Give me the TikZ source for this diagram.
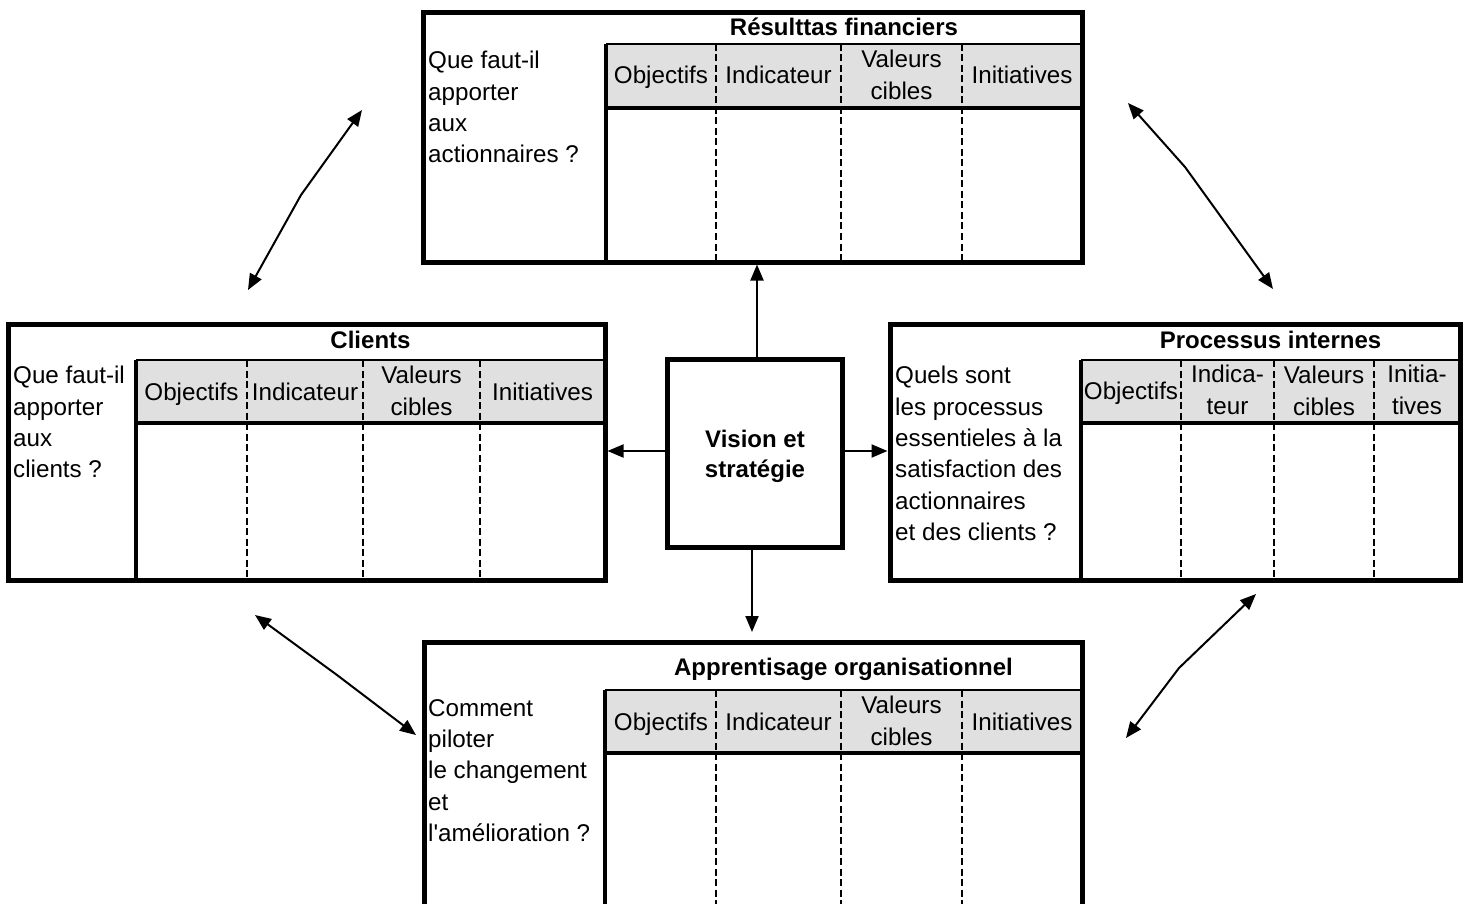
\documentclass[tikz,border=0pt]{standalone}
\usepackage{fontspec}
\setmainfont{Liberation Sans}
\usetikzlibrary{arrows.meta}
\definecolor{hdrgray}{RGB}{224,224,224}
\begin{document}
\begin{tikzpicture}[x=1pt,y=-1pt,
  txt/.style={font=\fontsize{24.2}{31.4}\selectfont, inner sep=0pt},
  ttl/.style={font=\bfseries\fontsize{24}{31.4}\selectfont, inner sep=0pt, anchor=base},
  lbl/.style={txt, anchor=base},
  lbltwo/.style={txt, align=center, anchor=north},
  quest/.style={txt, align=left, anchor=north west},
  box/.style={draw, line width=5pt, inner sep=0pt, rectangle},
  hdr/.style={fill=hdrgray},
  colsep/.style={line width=2.6pt, dash pattern=on 7pt off 3.5pt},
  tline/.style={line width=4pt},
  hline/.style={line width=2.2pt},
  conn/.style={line width=2pt, -{Triangle[length=16pt,width=13pt]}},
  dbl/.style={line width=2pt, {Triangle[length=16pt,width=13pt]}-{Triangle[length=16pt,width=13pt]}},
]
\useasboundingbox (0,0) rectangle (1467,904);
\clip (0,0) rectangle (1467,904);

% header fills
\fill[hdr] (606,44) rectangle (1082,108);
\fill[hdr] (136,360) rectangle (605,423);
\fill[hdr] (1081,360) rectangle (1460,423);
\fill[hdr] (605,690) rectangle (1082,753);

% boxes
\node[box, minimum width=659pt, minimum height=249pt] (fin) at (752.5,137.5) {};
\node[box, minimum width=597pt, minimum height=256pt] (cli) at (306.5,452) {};
\node[box, minimum width=570pt, minimum height=256pt] (pro) at (1175,452) {};
\node[box, minimum width=658pt, minimum height=288pt] (app) at (753,786) {};
\node[box, minimum width=175pt, minimum height=188pt] (vis) at (754.5,453) {};

% ---- Résultats financiers table
\draw[hline] (606,44) -- (1082,44);
\draw[tline] (606,44) -- (606,262);
\draw[tline] (606,108) -- (1082,108);
\foreach \x in {716,841,962} \draw[colsep] (\x,44) -- (\x,262);
\node[ttl] (fint) at (844,35.5) {Résulttas financiers};
\node[quest] (finq) at (428,51) {Que faut-il\\apporter\\aux\\actionnaires ?};
\node[lbl] (fin1) at (661,84) {Objectifs};
\node[lbl] (fin2) at (778.5,84) {Indicateur};
\node[lbltwo] (fin3) at (901.5,50) {Valeurs\\cibles};
\node[lbl] (fin4) at (1022,84) {Initiatives};

% ---- Clients table
\draw[hline] (136,360) -- (605,360);
\draw[tline] (136,360) -- (136,580);
\draw[tline] (136,423) -- (605,423);
\foreach \x in {247,363,480} \draw[colsep] (\x,360) -- (\x,580);
\node[ttl] (clit) at (370.5,348.5) {Clients};
\node[quest] (cliq) at (13,366) {Que faut-il\\apporter\\aux\\clients ?};
\node[lbl] (cli1) at (191.5,400) {Objectifs};
\node[lbl] (cli2) at (305,400) {Indicateur};
\node[lbltwo] (cli3) at (421.5,366) {Valeurs\\cibles};
\node[lbl] (cli4) at (542.5,400) {Initiatives};

% ---- Processus internes table
\draw[hline] (1081,360) -- (1460,360);
\draw[tline] (1081,360) -- (1081,580);
\draw[tline] (1081,423) -- (1460,423);
\foreach \x in {1181,1274,1374} \draw[colsep] (\x,360) -- (\x,580);
\node[ttl] (prot) at (1270.5,348.5) {Processus internes};
\node[quest] (proq) at (895,366) {Quels sont\\les processus\\essentieles à la\\satisfaction des\\actionnaires\\et des clients ?};
\node[lbl] (pro1) at (1131,399) {Objectifs};
\node[lbltwo] (pro2) at (1227.5,365) {Indica-\\teur};
\node[lbltwo] (pro3) at (1324,366) {Valeurs\\cibles};
\node[lbltwo] (pro4) at (1417,365) {Initia-\\tives};

% ---- Apprentisage organisationnel table
\draw[hline] (605,690) -- (1082,690);
\draw[tline] (605,690) -- (605,930);
\draw[tline] (605,753) -- (1082,753);
\foreach \x in {716,841,962} \draw[colsep] (\x,690) -- (\x,930);
\node[ttl] (appt) at (843.5,675.5) {Apprentisage organisationnel};
\node[quest] (appq) at (428,699) {Comment\\piloter\\le changement\\et\\l\textquotesingle amélioration ?};
\node[lbl] (app1) at (661,730) {Objectifs};
\node[lbl] (app2) at (778.5,730) {Indicateur};
\node[lbltwo] (app3) at (901.5,696) {Valeurs\\cibles};
\node[lbl] (app4) at (1022,730) {Initiatives};

% ---- centre
\node[txt, font=\bfseries\fontsize{24}{30.5}\selectfont, align=center, anchor=north] (vist) at (755,429.5) {Vision et\\stratégie};

% ---- arrows from centre
\coordinate (dn) at (752,632);
\draw[conn] ([xshift=2.5pt]vis.north) -- ([xshift=2.5pt]vis.north |- fin.south);
\draw[conn] (vis.south -| dn) -- (dn);
\draw[conn] ([yshift=2pt]vis.west) -- ([yshift=2pt]vis.west -| cli.east);
\draw[conn] ([yshift=2pt]vis.east) -- ([yshift=2pt]vis.east -| pro.west);

% ---- diagonal double arrows
\coordinate (tla) at (248,290);
\coordinate (tlk) at (301,195);
\coordinate (tlb) at (362,110);
\coordinate (tra) at (1128,103);
\coordinate (trk) at (1185,167);
\coordinate (trb) at (1273,289);
\coordinate (bla) at (255,615);
\coordinate (blk) at (337,675);
\coordinate (blb) at (416,735);
\coordinate (bra) at (1256,594);
\coordinate (brk) at (1179,668);
\coordinate (brb) at (1126,738);
\draw[dbl] (tla) -- (tlk) -- (tlb);
\draw[dbl] (tra) -- (trk) -- (trb);
\draw[dbl] (bla) -- (blk) -- (blb);
\draw[dbl] (bra) -- (brk) -- (brb);
\end{tikzpicture}
\end{document}
